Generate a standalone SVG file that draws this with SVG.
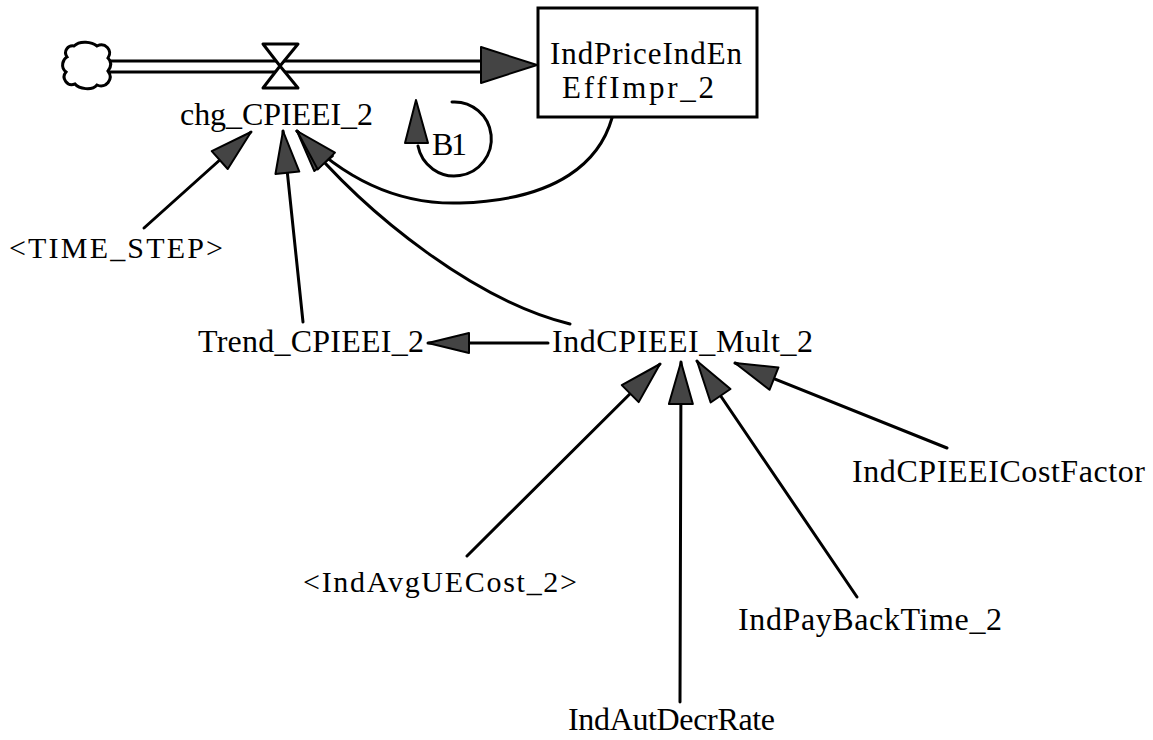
<svg xmlns="http://www.w3.org/2000/svg" width="1153" height="740" viewBox="0 0 1153 740">
<style>
text{font-family:"Liberation Serif","Times New Roman",serif;font-size:32px;fill:#000}
.ln{fill:none;stroke:#000;stroke-width:3;stroke-linecap:round}
.ah{fill:#444;stroke:#000;stroke-width:2;stroke-linejoin:round}
</style>
<defs>
<marker id="ah" markerUnits="userSpaceOnUse" markerWidth="50" markerHeight="32" viewBox="-46 -16 50 32" refX="0" refY="0" orient="auto">
<path class="ah" d="M0,0 L-42,-12 L-42,12 Z"/>
</marker>
<marker id="ahs" markerUnits="userSpaceOnUse" markerWidth="48" markerHeight="28" viewBox="-44 -14 48 28" refX="0" refY="0" orient="auto">
<path class="ah" d="M0,0 L-41,-10 L-41,10 Z"/>
</marker>
</defs>
<rect width="1153" height="740" fill="#fff"/>

<g id="connectors">
<path class="ln" d="M144,228 L251,132" marker-end="url(#ah)"/>
<path class="ln" d="M303,322 L283,131" marker-end="url(#ah)"/>
<path class="ln" d="M570,324 C480,302 370,220 297,131" marker-end="url(#ah)"/>
<path class="ln" d="M612,118 C600,160 560,200 460,203 C400,205 345,180 297,131" marker-end="url(#ah)"/>
<path class="ln" d="M548,343 L428,343" marker-end="url(#ahs)"/>
<path class="ln" d="M467,556 L660,364" marker-end="url(#ah)"/>
<path class="ln" d="M680,702 L681,362" marker-end="url(#ah)"/>
<path class="ln" d="M857,597 L697,361" marker-end="url(#ah)"/>
<path class="ln" d="M947,448 L735,363" marker-end="url(#ah)"/>
</g>

<g id="source-cloud">
<path class="ln" stroke-width="2.5" d="M74,46 C80,40 92,42 97,46 C105,42 113,50 108,58 C112,62 111,67 108,71 C114,79 106,89 97,85 C92,91 79,89 75,84 C67,87 61,78 66,72 C60,67 63,59 67,57 C63,51 68,45 74,46 Z"/>
</g>

<g id="flow-chg_CPIEEI_2">
<line x1="109" y1="61" x2="482" y2="61" stroke="#000" stroke-width="3"/>
<line x1="109" y1="72" x2="482" y2="72" stroke="#000" stroke-width="3"/>
<polygon points="263,44 298,44 280,66 298,88 263,88 280,66" fill="#fff" stroke="#000" stroke-width="3" stroke-linejoin="round"/>
<polygon class="ah" points="481,47 537,65 481,83"/>
<text x="180" y="125" textLength="193" lengthAdjust="spacing">chg_CPIEEI_2</text>
</g>

<g id="stock-IndPriceIndEnEffImpr_2">
<rect x="538" y="8" width="219" height="109" fill="#fff" stroke="#000" stroke-width="3"/>
<text x="550" y="64" style="font-size:31px" textLength="192" lengthAdjust="spacing">IndPriceIndEn</text>
<text x="562" y="98" style="font-size:31px" textLength="152" lengthAdjust="spacing">EffImpr_2</text>
</g>

<g id="loop-B1">
<path class="ln" d="M452,102 A37,37 0 1 1 418,146"/>
<polygon class="ah" points="416,100 405,143 428,143"/>
<text x="432" y="155" textLength="35" lengthAdjust="spacing">B1</text>
</g>

<g id="var-TIME_STEP"><text x="9" y="258" style="font-size:30px" textLength="214" lengthAdjust="spacing">&lt;TIME_STEP&gt;</text></g>
<g id="var-Trend_CPIEEI_2"><text x="198" y="352" textLength="226" lengthAdjust="spacing">Trend_CPIEEI_2</text></g>
<g id="var-IndCPIEEI_Mult_2"><text x="552" y="352" textLength="261" lengthAdjust="spacing">IndCPIEEI_Mult_2</text></g>
<g id="var-IndCPIEEICostFactor"><text x="852" y="482" textLength="293" lengthAdjust="spacing">IndCPIEEICostFactor</text></g>
<g id="var-IndAvgUECost_2"><text x="303" y="592" style="font-size:30px" textLength="274" lengthAdjust="spacing">&lt;IndAvgUECost_2&gt;</text></g>
<g id="var-IndPayBackTime_2"><text x="738" y="630" textLength="264" lengthAdjust="spacing">IndPayBackTime_2</text></g>
<g id="var-IndAutDecrRate"><text x="568" y="730" textLength="207" lengthAdjust="spacing">IndAutDecrRate</text></g>
</svg>
